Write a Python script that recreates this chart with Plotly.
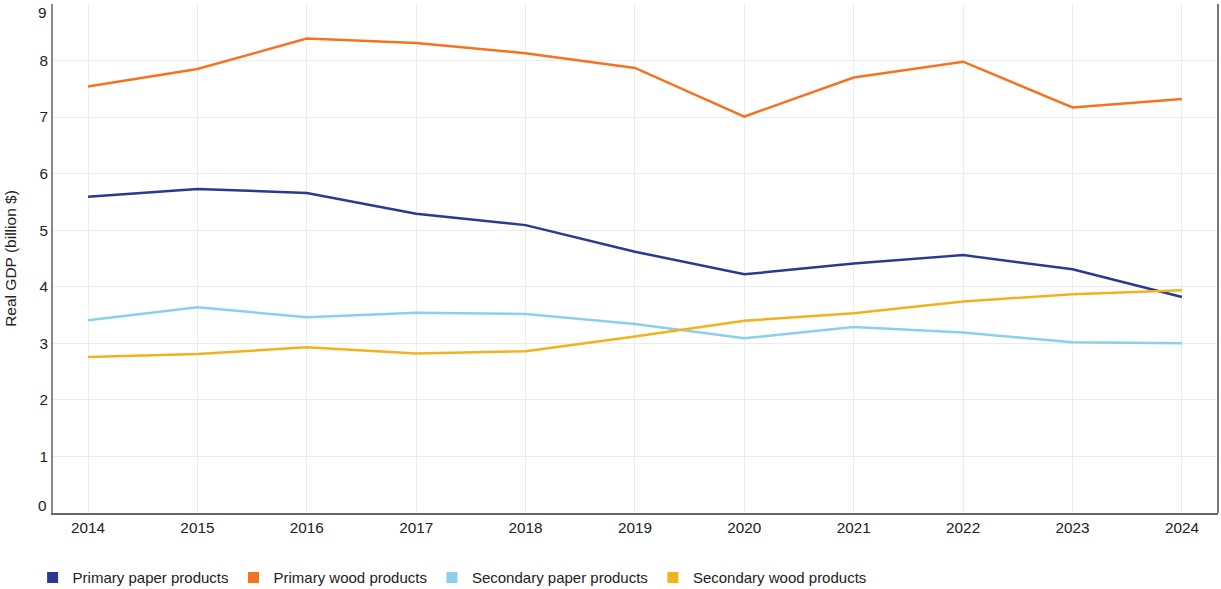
import plotly.graph_objects as go

years = [2014, 2015, 2016, 2017, 2018, 2019, 2020, 2021, 2022, 2023, 2024]

primary_paper = [5.59, 5.73, 5.66, 5.29, 5.09, 4.62, 4.22, 4.41, 4.56, 4.31, 3.82]
primary_wood = [7.54, 7.85, 8.39, 8.31, 8.13, 7.87, 7.01, 7.70, 7.98, 7.17, 7.32]
secondary_paper = [3.41, 3.64, 3.46, 3.54, 3.52, 3.34, 3.09, 3.29, 3.19, 3.02, 3.00]
secondary_wood = [2.76, 2.81, 2.93, 2.82, 2.86, 3.12, 3.40, 3.53, 3.74, 3.87, 3.94]

series_names = ["Primary paper products", "Primary wood products",
                "Secondary paper products", "Secondary wood products"]
series_values = [primary_paper, primary_wood, secondary_paper, secondary_wood]
colors = ["#2b3990", "#f47321", "#8ccfed", "#f2b21e"]

y_ticks = [0, 1, 2, 3, 4, 5, 6, 7, 8, 9]
x_ticks = years

FONT = "Liberation Sans, Arial, sans-serif"
TXT = "#222"

fig = go.Figure()
for name, vals, col in zip(series_names, series_values, colors):
    fig.add_trace(go.Scatter(x=years, y=vals, mode="lines", name=name,
                             line=dict(color=col, width=2.5), showlegend=False))
for name, col in zip(series_names, colors):
    fig.add_trace(go.Scatter(x=[None], y=[None], mode="markers", name=name,
                             marker=dict(symbol="square", size=11, color=col),
                             showlegend=True))

# inner tick labels (end labels drawn as annotations, nudged inside like the original)
inner_text = [str(v) if 0 < v < 9 else "" for v in y_ticks]

fig.update_layout(
    width=1221, height=589,
    margin=dict(l=53, r=3, t=4, b=76, autoexpand=False),
    paper_bgcolor="white", plot_bgcolor="white",
    font=dict(family=FONT, size=15, color=TXT),
    legend=dict(orientation="h", x=-0.0175, y=-0.095, xanchor="left", yanchor="top",
                font=dict(size=15, color=TXT), itemwidth=30, tracegroupgap=0),
    xaxis=dict(range=[2013.68, 2024.33], tickvals=x_ticks, ticktext=[str(v) for v in x_ticks],
               showgrid=True, gridcolor="#ececec", gridwidth=1,
               showline=True, linecolor="#666", linewidth=2, zeroline=False,
               ticks="", tickfont=dict(size=15.3, color=TXT), automargin=False),
    yaxis=dict(range=[0, 9], tickvals=y_ticks, ticktext=inner_text,
               showgrid=True, gridcolor="#ececec", gridwidth=1,
               showline=True, linecolor="#888", linewidth=2, zeroline=False,
               ticks="", tickfont=dict(size=15.3, color=TXT), automargin=False,
               title=dict(text="Real GDP (billion $)", font=dict(size=15.5, color=TXT), standoff=19)),
)
for v, shift in ((0, 8), (9, -8.5)):
    fig.add_annotation(xref="paper", yref="y", x=0, y=v, text=str(v), showarrow=False,
                       xanchor="right", yanchor="middle", xshift=-4, yshift=shift,
                       font=dict(size=15.3, color=TXT, family=FONT))

# right frame line
fig.add_shape(type="line", xref="paper", yref="paper", x0=1, x1=1, y0=0, y1=1,
              line=dict(color="#777", width=2))

fig.write_html("out.html",
               config={"displayModeBar": False},
               post_script="document.body.style.margin='0';document.body.style.overflow='hidden';")
